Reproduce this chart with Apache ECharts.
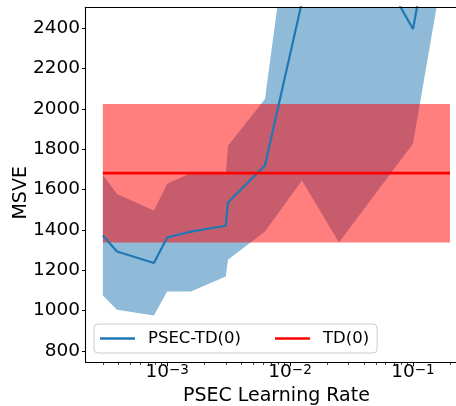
<!DOCTYPE html>
<html>
<head>
<meta charset="utf-8">
<script src="https://cdn.jsdelivr.net/npm/echarts@6/dist/echarts.min.js"></script>
<style>
  html, body { margin: 0; padding: 0; background: #fff; }
  #chart { width: 456px; height: 406px; }
</style>
</head>
<body>
<div id="chart"></div>
<script>
// PSEC learning rates swept
const learningRates = [0.0003, 0.000390625, 0.00078125, 0.001, 0.0015625, 0.003, 0.003125,
                       0.00625, 0.0125, 0.025, 0.05, 0.1, 0.2];
// PSEC-TD(0) mean MSVE and its band (mean ± std)
const psecMean  = [1372, 1292, 1235, 1362, 1391, 1420, 1535, 1719, 2530, 2900, 2720, 2395, 3395];
const psecLower = [1074, 1003,  975, 1094, 1094, 1168, 1251, 1391, 1644, 1337, 1582, 1826, 2887];
const psecUpper = [1673, 1578, 1496, 1628, 1681, 1678, 1816, 2048, 3416, 4463, 3858, 2964, 3903];
// TD(0) baseline (independent of the PSEC learning rate)
const tdMean  = 1681;
const tdLower = 1337;
const tdUpper = 2024;

// axis ticks
const yTicks = [800, 1000, 1200, 1400, 1600, 1800, 2000, 2200, 2400];
const xMajorTicks = [0.001, 0.01, 0.1];
const xMinorTicks = [0.0003, 0.0004, 0.0005, 0.0006, 0.0007, 0.0008, 0.0009,
                     0.002, 0.003, 0.004, 0.005, 0.006, 0.007, 0.008, 0.009,
                     0.02, 0.03, 0.04, 0.05, 0.06, 0.07, 0.08, 0.09, 0.2];

const FONT = 'DejaVu Sans';
const BLUE = '#1f77b4';
const RED = '#ff0000';
const X_MIN = 2.167e-4, X_MAX = 0.2767;

function bandSeries(name, xs, lo, hi, fill, z) {
  return {
    type: 'custom',
    name: name,
    z: z,
    silent: true,
    clip: true,
    xAxisIndex: 0,
    yAxisIndex: 0,
    data: [[xs[0], lo[0]]],
    renderItem: function (params, api) {
      const pts = [];
      for (let i = 0; i < xs.length; i++) pts.push(api.coord([xs[i], hi[i]]));
      for (let i = xs.length - 1; i >= 0; i--) pts.push(api.coord([xs[i], lo[i]]));
      const cs = params.coordSys;
      return {
        type: 'polygon',
        shape: { points: pts },
        style: { fill: fill },
        clipPath: { type: 'rect', shape: { x: cs.x, y: cs.y, width: cs.width, height: cs.height } }
      };
    }
  };
}

const first = learningRates[0];
const last = learningRates[learningRates.length - 1];

const chart = echarts.init(document.getElementById('chart'), null, { renderer: 'canvas' });
chart.setOption({
  animation: false,
  backgroundColor: '#fff',
  grid: { left: 85.5, top: 7.3, right: -11.3, bottom: 43.7, containLabel: false, outerBoundsMode: 'none' },
  xAxis: [
    {
      type: 'log', logBase: 10, min: X_MIN, max: X_MAX, position: 'bottom', z: 10,
      name: 'PSEC Learning Rate', nameLocation: 'middle', nameGap: 17,
      nameTextStyle: { fontFamily: FONT, fontSize: 19, color: '#000' },
      axisLine: { show: true, lineStyle: { color: '#000', width: 1.1 } },
      axisTick: { show: true, customValues: xMajorTicks, length: 4, lineStyle: { color: '#000', width: 1 } },
      axisLabel: {
        show: true, customValues: xMajorTicks, margin: 1,
        formatter: function (v) {
          const e = Math.round(Math.log10(v));
          return '{b|10}{s|\u2212' + (-e) + '}';
        },
        rich: {
          b: { fontFamily: FONT, fontSize: 18.5, color: '#000', lineHeight: 18, verticalAlign: 'bottom' },
          s: { fontFamily: FONT, fontSize: 13.5, color: '#000', lineHeight: 7, verticalAlign: 'top' }
        }
      },
      splitLine: { show: false }
    },
    {
      type: 'log', logBase: 10, min: X_MIN, max: X_MAX, position: 'bottom', z: 10,
      axisLine: { show: false },
      axisTick: { show: true, customValues: xMinorTicks, length: 2.5, lineStyle: { color: '#000', width: 0.8 } },
      axisLabel: { show: false },
      splitLine: { show: false }
    },
    {
      type: 'log', logBase: 10, min: X_MIN, max: X_MAX, position: 'top', z: 10,
      axisLine: { show: true, lineStyle: { color: '#000', width: 1.1 } },
      axisTick: { show: false },
      axisLabel: { show: false },
      splitLine: { show: false }
    }
  ],
  yAxis: {
    type: 'value', min: 743, max: 2503, z: 10,
    name: 'MSVE', nameLocation: 'middle', nameGap: 55, nameMoveOverlap: false,
    nameTextStyle: { fontFamily: FONT, fontSize: 19, color: '#000', padding: [0, 16, 0, 0] },
    axisLine: { show: true, lineStyle: { color: '#000', width: 1.1 } },
    axisTick: { show: true, customValues: yTicks, length: 3.5, lineStyle: { color: '#000', width: 1 } },
    axisLabel: {
      show: true, customValues: yTicks, margin: 5.5, fontFamily: FONT, fontSize: 18.5, color: '#000',
      formatter: function (v) { return String(v); }
    },
    splitLine: { show: false }
  },
  legend: {
    left: 94, top: 324,
    data: ['PSEC-TD(0)', 'TD(0)'],
    icon: 'rect', itemWidth: 35, itemHeight: 2.5, itemGap: 34,
    padding: [6, 8, 6, 6],
    backgroundColor: 'rgba(255,255,255,0.8)',
    borderColor: '#cccccc', borderWidth: 1, borderRadius: 4,
    textStyle: { fontFamily: FONT, fontSize: 16.5, color: '#000', padding: [0, 0, 0, 8], lineHeight: 17 },
    z: 20
  },
  series: [
    bandSeries('psec-band', learningRates, psecLower, psecUpper, 'rgba(31,119,180,0.5)', 1),
    bandSeries('td-band', [first, last], [tdLower, tdLower], [tdUpper, tdUpper], 'rgba(255,0,0,0.5)', 2),
    {
      type: 'line', name: 'PSEC-TD(0)', z: 3, clip: true,
      data: learningRates.map(function (x, i) { return [x, psecMean[i]]; }),
      showSymbol: false, symbol: 'none',
      itemStyle: { color: BLUE },
      lineStyle: { color: BLUE, width: 2.2 }
    },
    {
      type: 'line', name: 'TD(0)', z: 4, clip: true,
      data: [[first, tdMean], [last, tdMean]],
      showSymbol: false, symbol: 'none',
      itemStyle: { color: RED },
      lineStyle: { color: RED, width: 2.8 }
    }
  ]
});
</script>
</body>
</html>
